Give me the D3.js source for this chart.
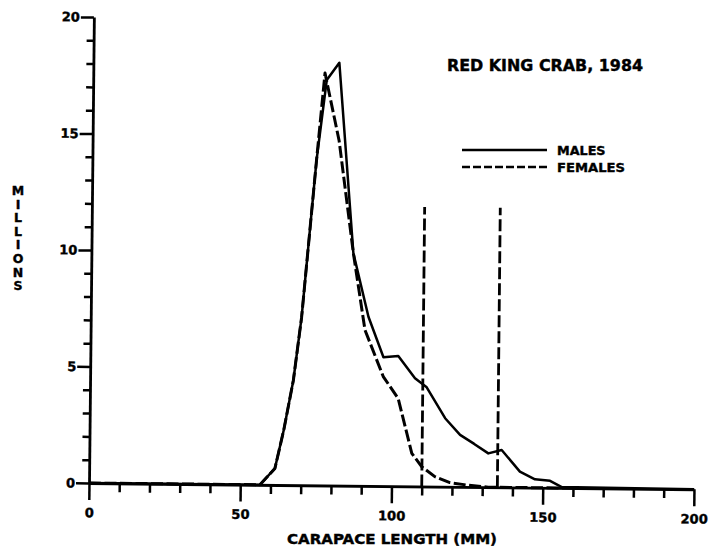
<!DOCTYPE html>
<html>
<head>
<meta charset="utf-8">
<script src="https://cdn.jsdelivr.net/npm/d3@7"></script>
<style>
  html, body { margin: 0; padding: 0; background: #fff; }
  svg text { font-family: "DejaVu Sans", sans-serif; font-weight: bold; fill: #000; stroke: #000; stroke-width: 0.4px; }
</style>
</head>
<body>
<svg id="chart" width="712" height="551"></svg>
<script>
// ---- data ----
const maleLength   = [0, 56.5, 61.4, 64.2, 67.2, 69.7, 74.1, 77.2, 81.3, 86.6, 91.8, 96.9, 101.8, 107.4, 111.3, 117.5, 122.5, 127.2, 131.9, 136.3, 142.4, 147.4, 152.4, 156.3, 200];
const maleMillions = [0, 0, 0.71, 2.36, 4.5, 7.2, 13.96, 17.4, 18.15, 9.98, 7.26, 5.53, 5.59, 4.64, 4.26, 2.94, 2.23, 1.85, 1.45, 1.6, 0.68, 0.36, 0.3, 0.04, 0];
const femaleLength   = [0, 56.5, 61.4, 64.2, 67.2, 69.7, 74.1, 76.6, 81.5, 86.6, 90.7, 96.9, 101.9, 106.6, 109.9, 114.3, 119.3, 125, 132, 160];
const femaleMillions = [0, 0, 0.71, 2.36, 4.5, 7.2, 13.96, 17.7, 14.8, 9.98, 6.69, 4.7, 3.77, 1.42, 0.85, 0.43, 0.18, 0.08, 0, 0];
const cutoffLengths = [110, 135];
const cutoffTop = 12;
const xMajorTicks = [0, 50, 100, 150, 200];
const yMajorTicks = [0, 5, 10, 15, 20];
const titleText = "RED KING CRAB, 1984";
const xTitle = "CARAPACE LENGTH (MM)";
const yTitle = "MILLIONS";
const legendLabels = ["MALES", "FEMALES"];

const svg = d3.select("#chart");
const x = d3.scaleLinear().domain([0, 200]).range([89, 694]);
const y = d3.scaleLinear().domain([0, 20]).range([483, 17]);

// the scanned figure is slightly rotated
const plot = svg.append("g").attr("transform", "rotate(0.6, 89, 483)");

const line = d3.line().x(d => x(d[0])).y(d => y(d[1]));

// cut-off lines
plot.selectAll(".cut").data(cutoffLengths).enter().append("line")
  .attr("x1", d => x(d)).attr("x2", d => x(d))
  .attr("y1", y(0)).attr("y2", y(cutoffTop))
  .attr("stroke", "#000").attr("stroke-width", 2.8)
  .attr("stroke-dasharray", "12,4");

// female
plot.append("path")
  .datum(femaleLength.map((l, i) => [l, femaleMillions[i]]))
  .attr("d", line).attr("fill", "none").attr("stroke", "#000")
  .attr("stroke-width", 3).attr("stroke-dasharray", "12,3.5")
  .attr("stroke-linejoin", "round");

// male
plot.append("path")
  .datum(maleLength.map((l, i) => [l, maleMillions[i]]))
  .attr("d", line).attr("fill", "none").attr("stroke", "#000")
  .attr("stroke-width", 2.5).attr("stroke-linejoin", "round");

// x axis
const xAxis = d3.axisBottom(x).tickValues(d3.range(0, 201, 10)).tickSizeInner(9).tickSizeOuter(0)
  .tickFormat(d => xMajorTicks.includes(d) ? d : "");
const gx = plot.append("g").attr("transform", `translate(0,${y(0)})`).call(xAxis);
gx.select(".domain").attr("stroke", "#000").attr("stroke-width", 2.8);
gx.selectAll(".tick line").attr("stroke", "#000").attr("stroke-width", 2.5)
  .attr("y2", d => xMajorTicks.includes(d) ? 17 : 9);
gx.selectAll(".tick text").attr("y", 25).attr("font-size", 13)
  .style("font-family", "DejaVu Sans").style("font-weight", "bold");

// y axis
const yAxis = d3.axisLeft(y).tickValues(d3.range(0, 21, 1)).tickSizeInner(7).tickSizeOuter(0)
  .tickFormat(d => yMajorTicks.includes(d) ? d : "");
const gy = plot.append("g").attr("transform", `translate(${x(0)},0)`).call(yAxis);
gy.select(".domain").attr("stroke", "#000").attr("stroke-width", 2.8);
gy.selectAll(".tick line").attr("stroke", "#000").attr("stroke-width", 2.5)
  .attr("x2", d => yMajorTicks.includes(d) ? -13 : -7);
gy.selectAll(".tick text").attr("x", -14).attr("font-size", 13)
  .style("font-family", "DejaVu Sans").style("font-weight", "bold");

// titles
svg.append("text").attr("x", 447).attr("y", 71).attr("font-size", 15.5)
  .attr("textLength", 196).attr("lengthAdjust", "spacingAndGlyphs").text(titleText);

svg.append("text").attr("x", 392).attr("y", 544).attr("text-anchor", "middle")
  .attr("font-size", 13.5).attr("textLength", 210).attr("lengthAdjust", "spacingAndGlyphs")
  .text(xTitle);

const yt = svg.append("text").attr("font-size", 12.5).attr("text-anchor", "middle");
yTitle.split("").forEach((ch, i) => {
  yt.append("tspan").attr("x", 18).attr("y", 195 + i * 13.6).text(ch);
});

// legend
const legendY = [150, 167];
svg.append("line").attr("x1", 462).attr("x2", 547).attr("y1", legendY[0]).attr("y2", legendY[0])
  .attr("stroke", "#000").attr("stroke-width", 2.3);
svg.append("line").attr("x1", 462).attr("x2", 550).attr("y1", legendY[1]).attr("y2", legendY[1])
  .attr("stroke", "#000").attr("stroke-width", 2.5).attr("stroke-dasharray", "8,3");
legendLabels.forEach((t, i) => {
  svg.append("text").attr("x", 557).attr("y", legendY[i] + 5).attr("font-size", 12.5)
    .attr("textLength", t.length * 9.7).attr("lengthAdjust", "spacingAndGlyphs").text(t);
});
</script>
</body>
</html>
